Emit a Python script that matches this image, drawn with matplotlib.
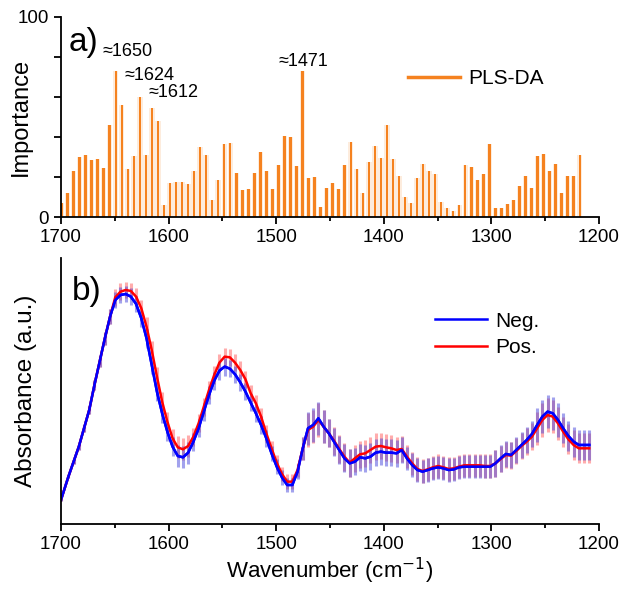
import numpy as np
import matplotlib
matplotlib.use("Agg")
import matplotlib.pyplot as plt
from matplotlib.ticker import MultipleLocator, FixedLocator

plt.rcParams['font.family'] = ['Liberation Sans', 'DejaVu Sans']

# a) PLS-DA importance, one bar every ~5.6 cm-1 from 1700 down
imp_start = 1699.5
imp_step = 5.6
importance = [7, 12, 23, 30, 31, 28.5, 29, 24.5, 46, 73, 56, 24, 30.5, 60, 31,
              54.5, 48, 6, 17, 17.5, 17.5, 16.5, 23, 35, 31, 8.5, 18.5, 36.5,
              37, 22, 13.5, 14, 22, 32.5, 23, 14, 26, 40.5, 40, 25.5, 73, 19.5,
              20, 5, 14.5, 17, 14, 26, 37.5, 24, 12, 27.5, 35.5, 29.5, 46, 29,
              20.5, 10, 7, 19.5, 26.5, 23, 21.5, 7.5, 4.5, 3, 6, 26, 25, 18.5,
              21.5, 36.5, 4.5, 4.5, 6.5, 8.5, 15.5, 20.5, 14.5, 30.5, 31.5, 23,
              26.5, 12, 20.5, 20.5, 31]
wn_imp = imp_start - imp_step * np.arange(len(importance))

peak_labels = ["\u22481650", "\u22481624", "\u22481612", "\u22481471"]
peak_label_pos = [(1661, 82.5), (1640.5, 71), (1618.2, 62.5), (1498.3, 77.5)]

# b) mean spectra (a.u.), first point at 1700 then every ~4.84 cm-1
wn = np.concatenate([[1700.0], 1693.1 - 4.84 * np.arange(101)])
neg = [0.72, 1.42, 1.87, 2.32, 2.87, 3.42, 4.17, 4.87, 5.57, 6.22,
       6.72, 6.87, 6.90, 6.82, 6.60, 6.17, 5.57, 4.77, 3.97, 3.32,
       2.77, 2.32, 2.04, 2.00, 2.14, 2.47, 2.87, 3.37, 3.87, 4.30,
       4.60, 4.72, 4.66, 4.49, 4.25, 3.97, 3.64, 3.32, 2.97, 2.57,
       2.12, 1.72, 1.40, 1.17, 1.17, 1.57, 2.27, 2.87, 2.97, 3.17,
       2.92, 2.72, 2.47, 2.22, 1.97, 1.82, 1.87, 2.00, 1.97, 2.02,
       2.14, 2.17, 2.14, 2.14, 2.12, 2.22, 1.97, 1.77, 1.62, 1.57,
       1.62, 1.67, 1.70, 1.67, 1.62, 1.64, 1.70, 1.72, 1.72, 1.72,
       1.72, 1.72, 1.72, 1.82, 1.97, 2.10, 2.07, 2.22, 2.37, 2.52,
       2.70, 2.97, 3.22, 3.37, 3.32, 3.12, 2.87, 2.64, 2.47, 2.37,
       2.37, 2.37]
pos = [0.72, 1.42, 1.87, 2.32, 2.87, 3.42, 4.17, 4.87, 5.57, 6.22,
       6.80, 6.97, 7.02, 6.99, 6.82, 6.47, 5.92, 5.22, 4.42, 3.67,
       3.07, 2.57, 2.30, 2.24, 2.34, 2.62, 3.02, 3.52, 4.02, 4.47,
       4.84, 5.02, 5.00, 4.84, 4.62, 4.34, 3.92, 3.62, 3.22, 2.72,
       2.27, 1.84, 1.50, 1.27, 1.27, 1.62, 2.27, 2.82, 2.92, 3.12,
       2.92, 2.72, 2.50, 2.25, 2.02, 1.84, 1.97, 2.09, 2.12, 2.22,
       2.32, 2.34, 2.30, 2.27, 2.22, 2.25, 2.02, 1.82, 1.65, 1.59,
       1.64, 1.70, 1.74, 1.70, 1.65, 1.67, 1.72, 1.76, 1.76, 1.76,
       1.76, 1.74, 1.74, 1.82, 1.95, 2.07, 2.05, 2.19, 2.34, 2.47,
       2.62, 2.87, 3.12, 3.27, 3.22, 3.02, 2.77, 2.54, 2.37, 2.27,
       2.27, 2.27]
err = [0.03, 0.05, 0.07, 0.09, 0.11, 0.13, 0.15, 0.17, 0.20, 0.22,
       0.25, 0.25, 0.25, 0.25, 0.25, 0.25, 0.28, 0.28, 0.28, 0.28,
       0.28, 0.28, 0.33, 0.33, 0.33, 0.27, 0.27, 0.27, 0.27, 0.27,
       0.27, 0.27, 0.26, 0.26, 0.26, 0.26, 0.26, 0.26, 0.26, 0.26,
       0.22, 0.22, 0.22, 0.22, 0.22, 0.22, 0.35, 0.50, 0.50, 0.50,
       0.50, 0.42, 0.42, 0.42, 0.42, 0.42, 0.40, 0.40, 0.40, 0.40,
       0.40, 0.40, 0.40, 0.40, 0.40, 0.40, 0.35, 0.35, 0.35, 0.35,
       0.35, 0.35, 0.35, 0.35, 0.35, 0.35, 0.35, 0.35, 0.35, 0.35,
       0.35, 0.35, 0.35, 0.40, 0.40, 0.40, 0.40, 0.40, 0.40, 0.40,
       0.40, 0.50, 0.50, 0.50, 0.50, 0.50, 0.45, 0.45, 0.45, 0.45,
       0.45, 0.45]

fig = plt.figure(figsize=(6.19, 5.92), dpi=100)
ax1 = fig.add_axes([0.0985, 0.6334, 0.8692, 0.3379])
ax2 = fig.add_axes([0.0985, 0.1149, 0.8692, 0.4493])

orange = "#F5821F"
ax1.bar(wn_imp, importance, width=5.0, color=orange, alpha=0.15, linewidth=0)
ax1.bar(wn_imp, importance, width=2.3, color=orange, linewidth=0)
for txt, (x, y) in zip(peak_labels, peak_label_pos):
    ax1.text(x, y, txt, fontsize=13, ha="left", va="center")
ax1.text(1693, 87, "a)", fontsize=24, ha="left", va="center")
ax1.set_xlim(1700, 1200)
ax1.set_ylim(0, 100)
ax1.yaxis.set_major_locator(FixedLocator([0, 20, 40, 60, 80, 100]))
ax1.set_yticklabels(["0", "", "", "", "", "100"])
ax1.set_ylabel("Importance", fontsize=17, labelpad=-10)
h = [plt.Line2D([], [], color=orange, lw=2.5)]
ax1.legend(h, ["PLS-DA"], loc="upper left", bbox_to_anchor=(0.63, 0.78),
           frameon=False, fontsize=15, handlelength=2.5, borderaxespad=0,
           handletextpad=0.4)

ax2.errorbar(wn, pos, yerr=err, fmt="none", ecolor="#FF5A5A", elinewidth=2.2, alpha=0.5)
ax2.errorbar(wn, neg, yerr=err, fmt="none", ecolor="#4646DC", elinewidth=2.2, alpha=0.5)
ax2.plot(wn, neg, color="#0000FF", lw=1.8, label="Neg.")
ax2.plot(wn, pos, color="#FF0000", lw=1.8, label="Pos.")
ax2.plot(wn, neg, color="#0000FF", lw=1.8)
ax2.text(1690, 6.96, "b)", fontsize=24, ha="left", va="center")
ax2.set_xlim(1700, 1200)
ax2.set_ylim(0, 7.98)
ax2.set_yticks([])
ax2.set_ylabel("Absorbance (a.u.)", fontsize=17.5, labelpad=17)
ax2.set_xlabel("Wavenumber (cm$^{-1}$)", fontsize=16, labelpad=2)
ax2.legend(loc="upper left", bbox_to_anchor=(0.68, 0.83), frameon=False,
           fontsize=15, handlelength=2.5, borderaxespad=0, handletextpad=0.4,
           labelspacing=0.35)

for ax in (ax1, ax2):
    ax.spines["top"].set_visible(False)
    ax.spines["right"].set_visible(False)
    ax.spines["left"].set_linewidth(1.3)
    ax.spines["bottom"].set_linewidth(1.3)
    ax.xaxis.set_major_locator(MultipleLocator(100))
    ax.xaxis.set_minor_locator(MultipleLocator(50))
    ax.tick_params(axis="both", which="major", direction="out", length=5,
                   width=1.3, labelsize=13.5)
    ax.tick_params(axis="x", which="minor", direction="out", length=3, width=1.3)

fig.savefig("out.png", dpi=100)
